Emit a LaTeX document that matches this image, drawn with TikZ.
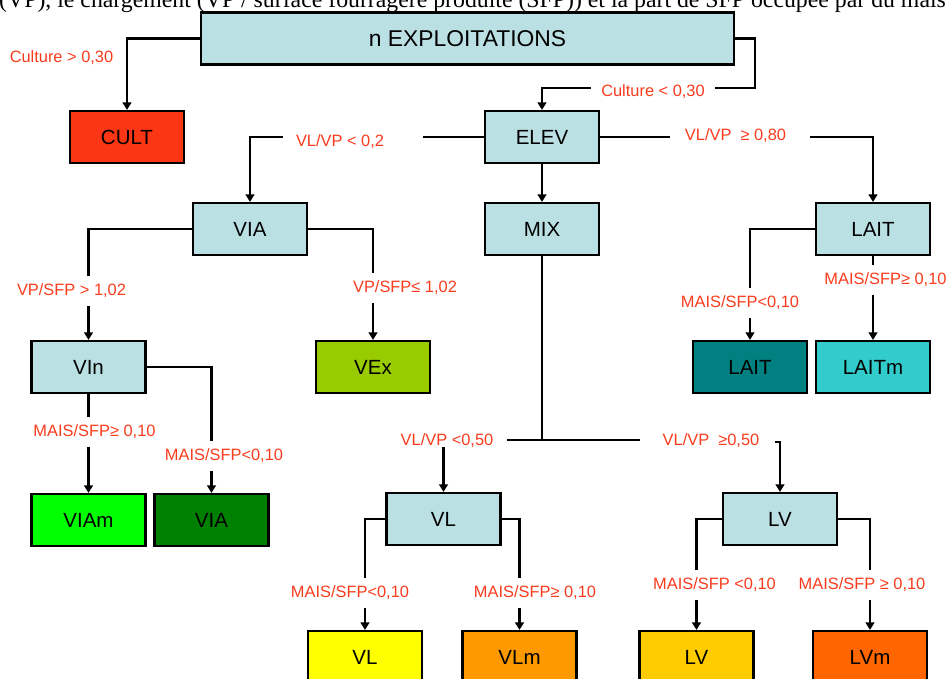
\documentclass[tikz,border=0pt]{standalone}
\usepackage{fontspec}
\setmainfont{Liberation Sans}
\newfontfamily\textserif{Liberation Serif}
\usepackage{tikz}
\usetikzlibrary{arrows.meta, positioning}
\definecolor{boxblue}{RGB}{187,224,227}
\definecolor{condred}{RGB}{250,60,30}
\definecolor{cultred}{RGB}{250,54,20}
\definecolor{vexgreen}{RGB}{153,204,0}
\definecolor{laitteal}{RGB}{0,128,128}
\definecolor{laitcyan}{RGB}{51,204,204}
\definecolor{viamgreen}{RGB}{0,255,0}
\definecolor{viagreen}{RGB}{0,128,0}
\definecolor{vlyellow}{RGB}{255,255,0}
\definecolor{vlmorange}{RGB}{255,153,0}
\definecolor{lvgold}{RGB}{255,204,0}
\definecolor{lvmorange}{RGB}{255,102,0}

\begin{document}
\begin{tikzpicture}[x=0.03cm, y=-0.03cm,
    box/.style={draw, line width=1.8pt, minimum width=3.42cm, minimum height=1.56cm,
        inner sep=0pt, font=\fontsize{17.5}{20}\selectfont},
    cond/.style={text=condred, inner xsep=1pt, inner ysep=7pt, text height=10pt,
        text depth=2pt, font=\fontsize{14}{16}\selectfont},
    link/.style={line width=2.2pt},
    arrow/.style={link, -{Triangle[length=6.5pt,width=7.5pt]}}]

    % Frame
    \useasboundingbox (0,0) rectangle (950,679);
    \clip (0,0) rectangle (950,679);
    \fill[white] (0,0) rectangle (950,679);

    % Cut caption line
    \node[anchor=base west, inner sep=0pt, font=\textserif\fontsize{20.3}{22}\selectfont] (caption) at (-1,7.5)
        {(VP), le chargement (VP / surface fourragère produite (SFP)) et la part de SFP occupée par du maïs};

    % Boxes
    \node[box, fill=boxblue, minimum width=15.98cm, font=\fontsize{19.5}{22}\selectfont] (top) at (467.5,38.5) {n EXPLOITATIONS};
    \node[box, fill=cultred] (cult) at (127,137) {CULT};
    \node[box, fill=boxblue] (elev) at (542,137) {ELEV};
    \node[box, fill=boxblue] (via) at (250,229) {VIA};
    \node[box, fill=boxblue] (mix) at (542,229) {MIX};
    \node[box, fill=boxblue] (lait) at (873,229) {LAIT};
    \node[box, fill=boxblue] (vin) at (88.5,367) {VIn};
    \node[box, fill=vexgreen] (vex) at (373,367) {VEx};
    \node[box, fill=laitteal] (laitb) at (750,367) {LAIT};
    \node[box, fill=laitcyan] (laitm) at (873,367) {LAITm};
    \node[box, fill=viamgreen] (viam) at (88.5,520) {VIAm};
    \node[box, fill=viagreen] (viab) at (211.5,520) {VIA};
    \node[box, fill=boxblue] (vl) at (443.5,519) {VL};
    \node[box, fill=boxblue] (lv) at (780,519) {LV};
    \node[box, fill=vlyellow] (vlb) at (365,657) {VL};
    \node[box, fill=vlmorange] (vlm) at (519.5,657) {VLm};
    \node[box, fill=lvgold] (lvb) at (696.5,657) {LV};
    \node[box, fill=lvmorange] (lvm) at (870,657) {LVm};

    % Conditions
    \node[cond] (cCultA) at (61.5,58) {Culture > 0,30};
    \node[cond] (cCultB) at (653,92) {Culture < 0,30};
    \node[cond] (cVia) at (340,142) {VL/VP < 0,2};
    \node[cond] (cLait) at (735.5,136) {VL/VP\ \ ≥ 0,80};
    \node[cond] (cVin) at (71.5,291) {VP/SFP > 1,02};
    \node[cond] (cVex) at (405,288) {VP/SFP≤ 1,02};
    \node[cond] (cViam) at (94.5,432) {MAIS/SFP≥ 0,10};
    \node[cond] (cViab) at (224,456) {MAIS/SFP<0,10};
    \node[cond] (cLaitb) at (740,303) {MAIS/SFP<0,10};
    \node[cond] (cLaitm) at (885.5,280) {MAIS/SFP≥ 0,10};
    \node[cond] (cVl) at (447,441) {VL/VP\ <0,50};
    \node[cond] (cLv) at (711,441) {VL/VP\ \ ≥0,50};
    \node[cond] (cVlb) at (350,593) {MAIS/SFP<0,10};
    \node[cond] (cVlm) at (535,593) {MAIS/SFP≥ 0,10};
    \node[cond] (cLvb) at (714.5,585) {MAIS/SFP <0,10};
    \node[cond] (cLvm) at (862,585) {MAIS/SFP ≥ 0,10};

    % Line ends beside the conditions
    \coordinate (tr1) at (755,88);
    \coordinate (tr2) at (715,88);
    \coordinate (tr3) at (591,88);
    \coordinate (el1) at (423,137);
    \coordinate (el2) at (283,137);
    \coordinate (er1) at (670,137);
    \coordinate (er2) at (810,137);
    \coordinate (mx1) at (507,440);
    \coordinate (mx2) at (640,440);
    \coordinate (mxj) at (542,440);
    \coordinate (mxl) at (443.5,447);
    \coordinate (mxr) at (775,442);

    % Top level
    \draw[arrow] (top.west) -| (cult);
    \draw[link] (top.east) -| (tr1) -- (tr2);
    \draw[arrow] (tr3) -| (elev);

    % ELEV
    \draw[link] (elev.west) -- (el1);
    \draw[arrow] (el2) -| (via);
    \draw[link] (elev.east) -- (er1);
    \draw[arrow] (er2) -| (lait);
    \draw[arrow] (elev) -- (mix);

    % VIA
    \draw[link] (via.west) -| (cVin.north -| vin);
    \draw[arrow] (cVin.south -| vin) -- (vin);
    \draw[link] (via.east) -| (cVex.north -| vex);
    \draw[arrow] (cVex.south -| vex) -- (vex);

    % VIn
    \draw[link] (vin.south) -- (cViam.north -| vin);
    \draw[arrow] (cViam.south -| viam) -- (viam);
    \draw[link] (vin.east) -| (cViab.north -| viab);
    \draw[arrow] (cViab.south -| viab) -- (viab);

    % LAIT
    \draw[link] (lait.west) -| (cLaitb.north -| laitb);
    \draw[arrow] (cLaitb.south -| laitb) -- (laitb);
    \draw[link] (lait.south) -- (cLaitm.north -| lait);
    \draw[arrow] (cLaitm.south -| laitm) -- (laitm);

    % MIX
    \draw[link] (mix.south) -- (mxj);
    \draw[link] (mx1) -- (mx2);
    \draw[arrow] (mxl) -- (vl);
    \draw[arrow] (mxr) -| (lv);

    % VL
    \draw[link] (vl.west) -| (cVlb.north -| vlb);
    \draw[arrow] (cVlb.south -| vlb) -- (vlb);
    \draw[link] (vl.east) -| (cVlm.north -| vlm);
    \draw[arrow] (cVlm.south -| vlm) -- (vlm);

    % LV
    \draw[link] (lv.west) -| (cLvb.north -| lvb);
    \draw[arrow] (cLvb.south -| lvb) -- (lvb);
    \draw[link] (lv.east) -| (cLvm.north -| lvm);
    \draw[arrow] (cLvm.south -| lvm) -- (lvm);
\end{tikzpicture}
\end{document}
